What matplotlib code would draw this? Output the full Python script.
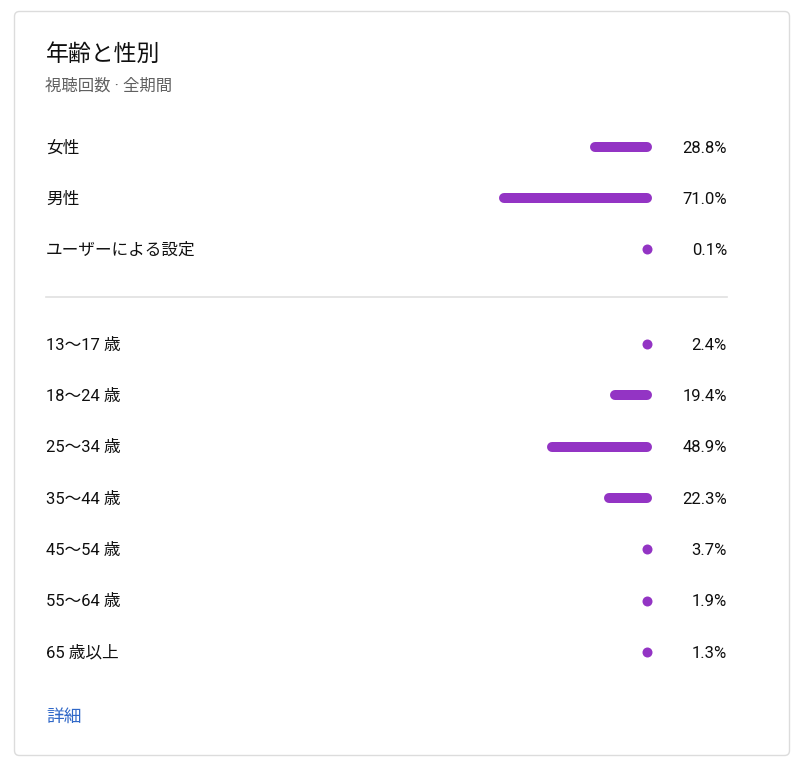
import matplotlib
matplotlib.use('agg')
import matplotlib.pyplot as plt
from matplotlib.patches import FancyBboxPatch

# data
gender_labels = ['女性', '男性', 'ユーザーによる設定']
gender_values = [28.8, 71.0, 0.1]
age_labels = ['13〜17 歳', '18〜24 歳', '25〜34 歳', '35〜44 歳', '45〜54 歳', '55〜64 歳', '65 歳以上']
age_values = [2.4, 19.4, 48.9, 22.3, 3.7, 1.9, 1.3]

title = '年齢と性別'
subtitle = '視聴回数 · 全期間'
link_text = '詳細'

PURPLE = '#9334c4'
FONTS = ['Roboto', 'Noto Sans CJK JP', 'DejaVu Sans']
plt.rcParams['font.family'] = FONTS

W, H = 800, 762
fig = plt.figure(figsize=(W / 100, H / 100), dpi=100)
fig.patch.set_facecolor('white')

# background axes in pixel units (y down)
bg = fig.add_axes([0, 0, 1, 1])
bg.set_xlim(0, W)
bg.set_ylim(H, 0)
bg.axis('off')

card = FancyBboxPatch((14.5, 11.5), 775, 744, boxstyle='round,pad=0,rounding_size=5',
                      fc='white', ec='#dcdcdc', lw=1.0)
bg.add_patch(card)

bg.text(46, 54.5, title, fontsize=16.5, color='#0f0f0f', va='center', ha='left')
bg.text(45, 86, subtitle, fontsize=11.8, color='#606060', va='center', ha='left')

# bar axes: x in percent, 0% at pixel 652 growing to the left, 2.15 px per %
px_per_pct = 2.15
bar_right = 652
bar_span = 100 * px_per_pct
bax = fig.add_axes([(bar_right - bar_span) / W, 0, bar_span / W, 1])
bax.set_xlim(100, 0)
bax.set_ylim(H, 0)
bax.axis('off')
cap = 5 / px_per_pct  # half of bar thickness, in percent units


def draw_rows(labels, values, y0, step):
    for i, (lab, v) in enumerate(zip(labels, values)):
        y = y0 + i * step
        bg.text(46, y + 1.2, lab, fontsize=12, color='#0f0f0f', va='center', ha='left')
        bg.text(727, y + 1.2, f'{v:.1f}%', fontsize=12, color='#0f0f0f', va='center', ha='right')
        hi = v - cap
        if hi > cap:
            bax.plot([cap, hi], [y, y], color=PURPLE, lw=7.2, solid_capstyle='round')
        else:
            bax.plot([cap], [y], 'o', color=PURPLE, ms=7.2, mew=0)


draw_rows(gender_labels, gender_values, 147, 51)
bg.plot([46, 727], [297, 297], color='#e0e0e0', lw=1.2)
draw_rows(age_labels, age_values, 344, 51.3)

bg.text(46, 717, link_text, fontsize=12.8, color='#3068c8', va='center', ha='left')

fig.savefig('out.png', dpi=100, facecolor='white')
